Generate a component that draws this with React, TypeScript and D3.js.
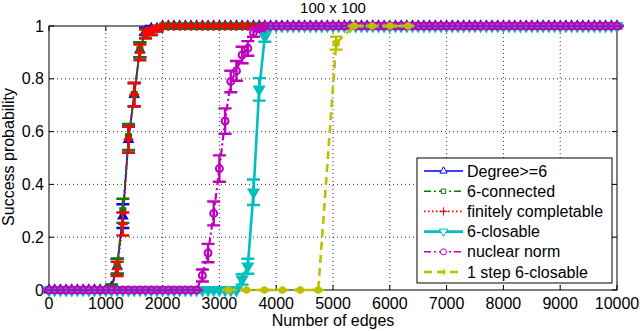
import React from 'react';
import * as d3 from 'd3';

// edge counts used for the first five curves (every 100 edges)
const edges = d3.range(0, 10001, 100);

const degreeSix = [
  0, 0, 0, 0, 0, 0, 0, 0, 0, 0, 0, 0.01, 0.09, 0.28, 0.57, 0.74, 0.91, 0.98, 0.99, 0.99,
  1, 1, 1, 1, 1, 1, 1, 1, 1, 1, 1, 1, 1, 1, 1, 1, 1, 1, 1, 1,
  1, 1, 1, 1, 1, 1, 1, 1, 1, 1, 1, 1, 1, 1, 1, 1, 1, 1, 1, 1,
  1, 1, 1, 1, 1, 1, 1, 1, 1, 1, 1, 1, 1, 1, 1, 1, 1, 1, 1, 1,
  1, 1, 1, 1, 1, 1, 1, 1, 1, 1, 1, 1, 1, 1, 1, 1, 1, 1, 1, 1,
  1,
];
const sixConnected = [
  0, 0, 0, 0, 0, 0, 0, 0, 0, 0, 0, 0.01, 0.09, 0.3, 0.58, 0.74, 0.91, 0.97, 0.98, 0.99,
  1, 1, 1, 1, 1, 1, 1, 1, 1, 1, 1, 1, 1, 1, 1, 1, 1, 1, 1, 1,
  1, 1, 1, 1, 1, 1, 1, 1, 1, 1, 1, 1, 1, 1, 1, 1, 1, 1, 1, 1,
  1, 1, 1, 1, 1, 1, 1, 1, 1, 1, 1, 1, 1, 1, 1, 1, 1, 1, 1, 1,
  1, 1, 1, 1, 1, 1, 1, 1, 1, 1, 1, 1, 1, 1, 1, 1, 1, 1, 1, 1,
  1,
];
const finitelyCompletable = [
  0, 0, 0, 0, 0, 0, 0, 0, 0, 0, 0, 0, 0.08, 0.25, 0.57, 0.74, 0.9, 0.97, 0.98, 0.99,
  1, 1, 1, 1, 1, 1, 1, 1, 1, 1, 1, 1, 1, 1, 1, 1, 1, 1, 1, 1,
  1, 1, 1, 1, 1, 1, 1, 1, 1, 1, 1, 1, 1, 1, 1, 1, 1, 1, 1, 1,
  1, 1, 1, 1, 1, 1, 1, 1, 1, 1, 1, 1, 1, 1, 1, 1, 1, 1, 1, 1,
  1, 1, 1, 1, 1, 1, 1, 1, 1, 1, 1, 1, 1, 1, 1, 1, 1, 1, 1, 1,
  1,
];
const sixClosable = [
  0, 0, 0, 0, 0, 0, 0, 0, 0, 0, 0, 0, 0, 0, 0, 0, 0, 0, 0, 0,
  0, 0, 0, 0, 0, 0, 0, 0, 0, 0, 0, 0, 0, 0, 0.04, 0.09, 0.37, 0.76, 0.96, 1,
  1, 1, 1, 1, 1, 1, 1, 1, 1, 1, 1, 1, 1, 1, 1, 1, 1, 1, 1, 1,
  1, 1, 1, 1, 1, 1, 1, 1, 1, 1, 1, 1, 1, 1, 1, 1, 1, 1, 1, 1,
  1, 1, 1, 1, 1, 1, 1, 1, 1, 1, 1, 1, 1, 1, 1, 1, 1, 1, 1, 1,
  1,
];
const nuclearNorm = [
  0, 0, 0, 0, 0, 0, 0, 0, 0, 0, 0, 0, 0, 0, 0, 0, 0, 0, 0, 0,
  0, 0, 0, 0, 0, 0, 0, 0.055, 0.14, 0.29, 0.46, 0.64, 0.79, 0.83, 0.89, 0.915, 0.975, 0.99, 1, 1,
  1, 1, 1, 1, 1, 1, 1, 1, 1, 1, 1, 1, 1, 1, 1, 1, 1, 1, 1, 1,
  1, 1, 1, 1, 1, 1, 1, 1, 1, 1, 1, 1, 1, 1, 1, 1, 1, 1, 1, 1,
  1, 1, 1, 1, 1, 1, 1, 1, 1, 1, 1, 1, 1, 1, 1, 1, 1, 1, 1, 1,
  1,
];
const oneStepEdges = [3160, 3476, 3792, 4108, 4424, 4740, 5056, 5372, 5688, 6004, 6320];
const oneStepClosable = [0, 0, 0, 0, 0, 0, 0.935, 1, 1, 1, 1];

const xTicks = [0, 1000, 2000, 3000, 4000, 5000, 6000, 7000, 8000, 9000, 10000];
const yTicks = [0, 0.2, 0.4, 0.6, 0.8, 1];
const yTickLabels = ['0', '0.2', '0.4', '0.6', '0.8', '1'];
const trials = 100; // runs per point, error bars = binomial std error

const font = '"Liberation Sans", Arial, Helvetica, sans-serif';

const series = [
  { name: 'Degree>=6', xs: edges, ys: degreeSix, color: '#0000ff', dash: 'none', lw: 1.8, marker: 'up', fill: true },
  { name: '6-connected', xs: edges, ys: sixConnected, color: '#008000', dash: '7,3,2,3', lw: 1.8, marker: 'square', fill: true },
  { name: 'finitely completable', xs: edges, ys: finitelyCompletable, color: '#ff0000', dash: '1.5,2.5', lw: 1.8, marker: 'plus', fill: false },
  { name: '6-closable', xs: edges, ys: sixClosable, color: '#00bfbf', dash: 'none', lw: 2.6, marker: 'down', fill: true },
  { name: 'nuclear norm', xs: edges, ys: nuclearNorm, color: '#bf00bf', dash: '7,3,2,3', lw: 2.2, marker: 'circle', fill: false },
  { name: '1 step 6-closable', xs: oneStepEdges, ys: oneStepClosable, color: '#bfbf00', dash: '8,5', lw: 2.6, marker: 'star', fill: true },
];

function markerPath(kind: string, big: boolean) {
  const s = big ? 1 : 0.75;
  switch (kind) {
    case 'up': return d3.symbol().type(d3.symbolTriangle).size(30 * s)();
    case 'down': return d3.symbol().type(d3.symbolTriangle).size(40 * s)();
    case 'square': return d3.symbol().type(d3.symbolSquare).size(26 * s)();
    case 'plus': return d3.symbol().type(d3.symbolPlus).size(32 * s)();
    case 'circle': return d3.symbol().type(d3.symbolCircle).size(38 * s)();
    default: return d3.symbol().type(d3.symbolAsterisk).size(40 * s)();
  }
}

export default function App() {
  const x = d3.scaleLinear().domain([0, 10000]).range([49, 617]);
  const y = d3.scaleLinear().domain([0, 1]).range([290, 26]);
  const [x0, x1] = x.range();
  const [y0, y1] = y.range();
  const cap = 6.5;

  const legend = { left: 417, top: 158, width: 195, height: 125 };

  return (
    <svg width={640} height={331} style={{ position: 'absolute', left: 0, top: 0, background: '#fff' }} fontFamily={font}>
      <rect x={0} y={0} width={640} height={331} fill="#fff" />
      {/* grid */}
      <g stroke="#333" strokeWidth={1} strokeDasharray="1,3">
        {xTicks.slice(1, -1).map(t => (
          <line key={'gx' + t} x1={x(t)} x2={x(t)} y1={y0} y2={y1} />
        ))}
        {yTicks.slice(1, -1).map(t => (
          <line key={'gy' + t} x1={x0} x2={x1} y1={y(t)} y2={y(t)} />
        ))}
      </g>
      {/* box and ticks */}
      <g stroke="#000" strokeWidth={1} fill="none">
        <rect x={x0} y={y1} width={x1 - x0} height={y0 - y1} />
        {xTicks.map(t => (
          <g key={'tx' + t}>
            <line x1={x(t)} x2={x(t)} y1={y0} y2={y0 - 5} />
            <line x1={x(t)} x2={x(t)} y1={y1} y2={y1 + 5} />
          </g>
        ))}
        {yTicks.map(t => (
          <g key={'ty' + t}>
            <line x1={x0} x2={x0 + 5} y1={y(t)} y2={y(t)} />
            <line x1={x1} x2={x1 - 5} y1={y(t)} y2={y(t)} />
          </g>
        ))}
      </g>
      <g fontSize={16} fill="#000">
        {xTicks.map(t => (
          <text key={'lx' + t} x={x(t)} y={309} textAnchor="middle">{t}</text>
        ))}
        {yTicks.map((t, i) => (
          <text key={'ly' + t} x={44} y={y(t) + 5.5} textAnchor="end">{yTickLabels[i]}</text>
        ))}
        <text x={333} y={326} textAnchor="middle">Number of edges</text>
        <text transform="translate(14,157) rotate(-90)" textAnchor="middle">Success probability</text>
        <text x={333} y={12.5} textAnchor="middle" fontSize={15}>100 x 100</text>
      </g>
      {/* series */}
      {series.map(s => {
        const pts = s.xs.map((e, i) => [x(e), y(s.ys[i])] as [number, number]);
        const errs = s.ys.map(p => Math.sqrt(p * (1 - p) / trials));
        const line = d3.line()(pts) || '';
        const bars = s.xs.map((e, i) => {
          const px = x(e);
          const ya = y(s.ys[i] + errs[i]);
          const yb = y(s.ys[i] - errs[i]);
          return `M${px - cap},${ya}H${px + cap}M${px},${ya}V${yb}M${px - cap},${yb}H${px + cap}`;
        }).join('');
        const mp = markerPath(s.marker, true);
        return (
          <g key={s.name}>
            <path d={bars} stroke={s.color} strokeWidth={2.4} fill="none" />
            <path d={line} stroke={s.color} strokeWidth={s.lw} fill="none"
              strokeDasharray={s.dash === 'none' ? undefined : s.dash} />
            {pts.map((p, i) => (
              <g key={i} transform={`translate(${p[0]},${p[1]})`}>
                {s.marker === 'star' && <circle r={3.6} fill={s.color} />}
                <path d={mp}
                  transform={s.marker === 'down' ? 'rotate(180)' : undefined}
                  fill={s.fill && s.marker !== 'star' ? s.color : 'none'}
                  stroke={s.color} strokeWidth={s.marker === 'plus' ? 2.5 : 2} />
              </g>
            ))}
          </g>
        );
      })}
      {/* legend */}
      <g>
        <rect x={legend.left} y={legend.top} width={legend.width} height={legend.height}
          fill="#fff" stroke="#000" strokeWidth={1} />
        {series.map((s, i) => {
          const cy = 171 + i * 20.2;
          return (
            <g key={'lg' + s.name}>
              <line x1={424} x2={463} y1={cy} y2={cy} stroke={s.color}
                strokeWidth={s.lw > 2.5 ? 2.6 : 1.6}
                strokeDasharray={s.dash === 'none' ? undefined : s.dash} />
              <path d={markerPath(s.marker, false)} fill="#fff" stroke={s.color} strokeWidth={1}
                transform={`translate(443.5,${cy})${s.marker === 'down' ? ' rotate(180)' : ''}`} />
              <text x={467} y={cy + 5.5} fontSize={16} fill="#000">{s.name}</text>
            </g>
          );
        })}
      </g>
    </svg>
  );
}
